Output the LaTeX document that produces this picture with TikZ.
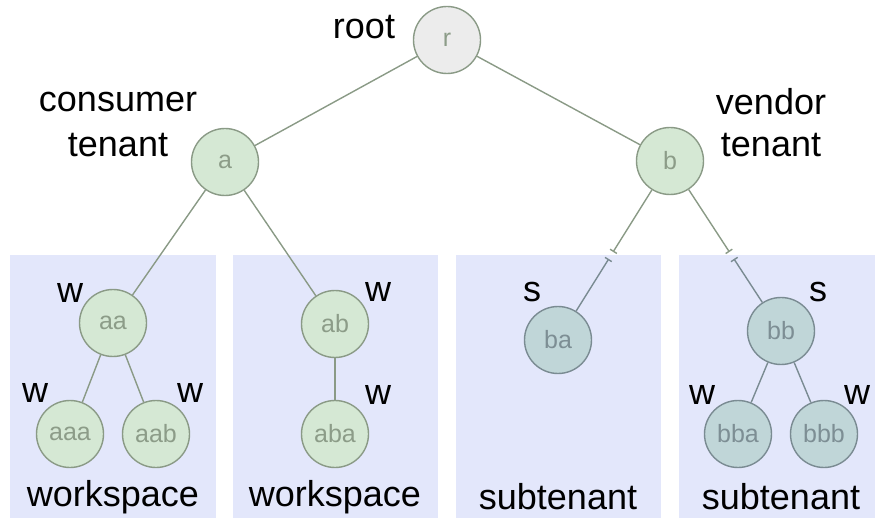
\documentclass[tikz,border=0pt]{standalone}
\usepackage{fontspec}
\setmainfont{Liberation Sans}
\usetikzlibrary{arrows.meta,calc}
\definecolor{boxfill}{RGB}{227,231,251}
\definecolor{gfill}{RGB}{213,232,212}
\definecolor{gline}{RGB}{138,154,134}
\definecolor{gtext}{RGB}{140,156,136}
\definecolor{bfill}{RGB}{192,214,216}
\definecolor{bline}{RGB}{122,139,146}
\definecolor{btext}{RGB}{125,142,148}
\definecolor{rfill}{RGB}{236,236,236}
\begin{document}
\begin{tikzpicture}[x=1pt,y=-1pt,
  gnode/.style={circle,draw=gline,fill=gfill,line width=1.4pt,minimum size=67pt,inner sep=0pt,text=gtext,font=\fontsize{25}{28}\selectfont},
  bnode/.style={gnode,draw=bline,fill=bfill,text=btext},
  rnode/.style={gnode,fill=rfill},
  lbl/.style={font=\fontsize{36}{40}\selectfont,text=black,inner sep=0pt},
  gedge/.style={draw=gline,line width=1.4pt},
  bedge/.style={draw=bline,line width=1.4pt},
  area/.style={fill=boxfill,draw=none}]
\useasboundingbox (0,0) rectangle (875,518);
% group areas
\path[area] (10,255) rectangle (216,518);
\path[area] (233,255) rectangle (438,518);
\path[area] (456,255) rectangle (661,518);
\path[area] (679,255) rectangle (875,518);
% nodes
\node[rnode] (r) at (447,40) {r};
\node[gnode] (a) at (225,162) {a};
\node[gnode] (b) at (670,161) {b};
\node[gnode] (aa) at (113,323) {aa};
\node[gnode] (aaa) at (70,434) {aaa};
\node[gnode] (aab) at (156,434) {aab};
\node[gnode] (ab) at (335,324) {ab};
\node[gnode] (aba) at (335,434) {aba};
\node[bnode] (ba) at (558,340) {ba};
\node[bnode] (bb) at (781,331) {bb};
\node[bnode] (bba) at (738,434) {bba};
\node[bnode] (bbb) at (824,434) {bbb};
% edges
\draw[gedge] (r) -- (a);
\draw[gedge] (r) -- (b);
\draw[gedge] (a) -- (aa);
\draw[gedge] (a) -- (ab);
\draw[gedge] (aa) -- (aaa);
\draw[gedge] (aa) -- (aab);
\draw[gedge] (ab) -- (aba);
\coordinate (ba1) at ($(b)!0.508!(ba)$);
\coordinate (ba2) at ($(b)!0.547!(ba)$);
\coordinate (bb1) at ($(b)!0.535!(bb)$);
\coordinate (bb2) at ($(b)!0.576!(bb)$);
\draw[gedge,-{Bar[width=8pt]}] (b) -- (ba1);
\draw[bedge,{Bar[width=8pt]}-] (ba2) -- (ba);
\draw[gedge,-{Bar[width=8pt]}] (b) -- (bb1);
\draw[bedge,{Bar[width=8pt]}-] (bb2) -- (bb);
\draw[bedge] (bb) -- (bba);
\draw[bedge] (bb) -- (bbb);
% labels
\node[lbl] (lroot) at (364,27) {root};
\node[lbl] (lcons) at (118,102) {consumer};
\node[lbl] (lcten) at (118,145) {tenant};
\node[lbl] (lvend) at (771,102) {vendor};
\node[lbl] (lvten) at (771,145) {tenant};
\node[lbl] (w1) at (70,293) {w};
\node[lbl] (w2) at (35,393) {w};
\node[lbl] (w3) at (190,393) {w};
\node[lbl] (w4) at (378,292) {w};
\node[lbl] (w5) at (378,395) {w};
\node[lbl] (s1) at (532,292) {s};
\node[lbl] (s2) at (818,292) {s};
\node[lbl] (w6) at (702,395) {w};
\node[lbl] (w7) at (857,395) {w};
\node[lbl] (ws1) at (113,497) {workspace};
\node[lbl] (ws2) at (335,497) {workspace};
\node[lbl] (st1) at (558,497) {subtenant};
\node[lbl] (st2) at (781,497) {subtenant};
\end{tikzpicture}
\end{document}
